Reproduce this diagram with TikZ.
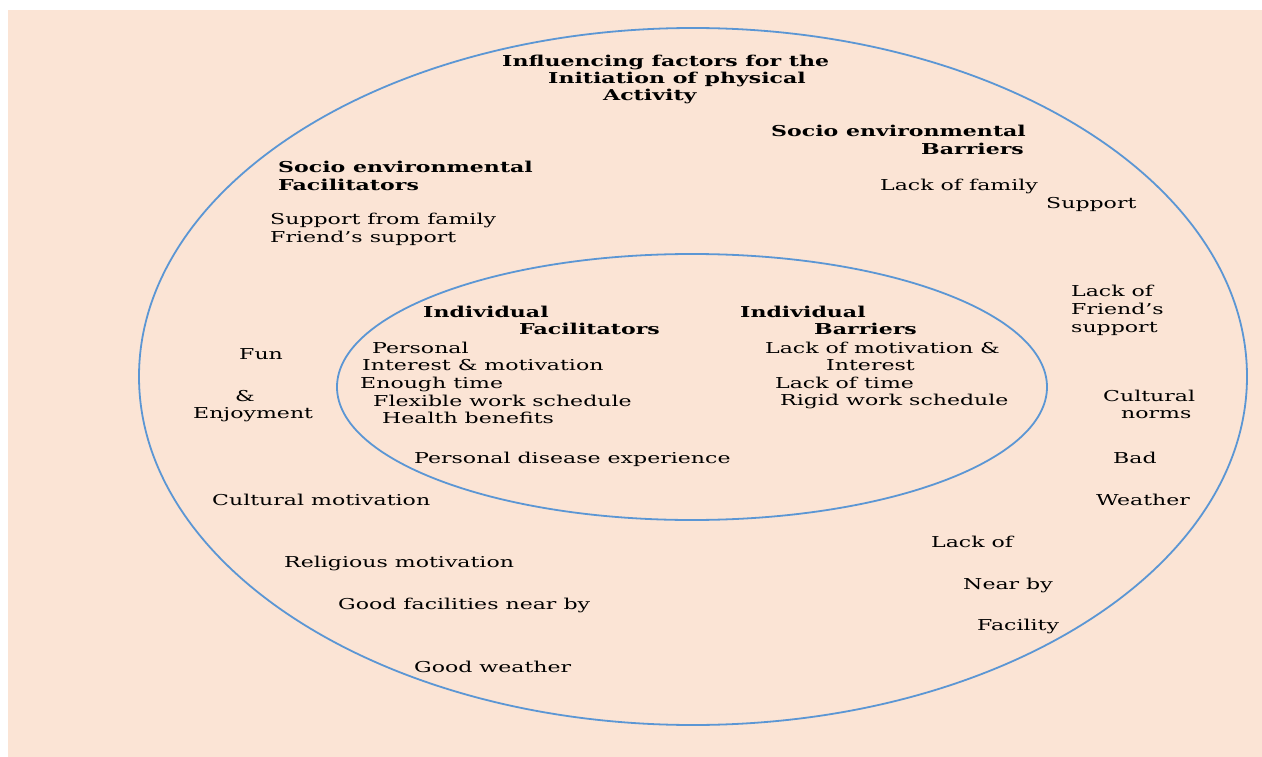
\documentclass[tikz,border=0pt]{standalone}
\usepackage{fontspec}
\setmainfont[FakeStretch=1.47]{DejaVu Serif}
\definecolor{bgpeach}{RGB}{251,228,213}
\definecolor{ringblue}{RGB}{91,150,212}
\begin{document}
\begin{tikzpicture}[x=1pt,y=-1pt,
  txt/.style={anchor=base west,inner sep=0pt,font=\fontsize{15}{18}\selectfont},
  btxt/.style={anchor=base west,inner sep=0pt,font=\fontsize{15}{18}\selectfont\bfseries},
  ring/.style={draw=ringblue,line width=1.8pt}]
\useasboundingbox (0,0) rectangle (1262,757);
\fill[bgpeach] (8,10) rectangle (1262,757);
\draw[ring] (693,376.5) ellipse [x radius=554, y radius=348.5];
\draw[ring] (692,387) ellipse [x radius=355, y radius=133];
% title
\node[btxt] (t1) at (502,67) {Influencing factors for the};
\node[btxt] (t2) at (548,84) {Initiation of physical};
\node[btxt] (t3) at (603,101) {Activity};
% socio barriers
\node[btxt] (sb1) at (771,137) {Socio environmental};
\node[btxt,anchor=base east] (sb2) at (1024,155) {Barriers};
\node[txt] (sb3) at (880,190) {Lack of family};
\node[txt] (sb4) at (1046,208) {Support};
\node[txt] (sb5) at (1071,296) {Lack of};
\node[txt] (sb6) at (1071,314) {Friend’s};
\node[txt] (sb7) at (1071,332) {support};
\node[txt] (sb8) at (1103,401) {Cultural};
\node[txt] (sb9) at (1121,418) {norms};
\node[txt] (sb10) at (1113,463) {Bad};
\node[txt] (sb11) at (1096,505) {Weather};
\node[txt] (sb12) at (931,547) {Lack of};
\node[txt] (sb13) at (963,589) {Near by};
\node[txt] (sb14) at (977,630) {Facility};
% socio facilitators
\node[btxt] (sf1) at (278,173) {Socio environmental};
\node[btxt] (sf2) at (278,190) {Facilitators};
\node[txt] (sf3) at (270,225) {Support from family};
\node[txt] (sf4) at (270,243) {Friend’s support};
\node[txt] (sf5) at (239,359) {Fun};
\node[txt] (sf6) at (235,401) {\&};
\node[txt] (sf7) at (193,418) {Enjoyment};
\node[txt] (sf8) at (212,505) {Cultural motivation};
\node[txt] (sf9) at (284,567) {Religious motivation};
\node[txt] (sf10) at (338,609) {Good facilities near by};
\node[txt] (sf11) at (414,672) {Good weather};
% individual facilitators
\node[btxt] (if1) at (423,317) {Individual};
\node[btxt,anchor=base east] (if2) at (660,334) {Facilitators};
\node[txt] (if3) at (372,353) {Personal};
\node[txt] (if4) at (362,370) {Interest \& motivation};
\node[txt] (if5) at (360,388) {Enough time};
\node[txt] (if6) at (373,406) {Flexible work schedule};
\node[txt] (if7) at (382,423) {Health benefits};
\node[txt] (if8) at (414,463) {Personal disease experience};
% individual barriers
\node[btxt] (ib1) at (740,317) {Individual};
\node[btxt,anchor=base east] (ib2) at (917,334) {Barriers};
\node[txt] (ib3) at (765,353) {Lack of motivation \&};
\node[txt] (ib4) at (826,370) {Interest};
\node[txt] (ib5) at (775,388) {Lack of time};
\node[txt] (ib6) at (780,405) {Rigid work schedule};
\end{tikzpicture}
\end{document}
